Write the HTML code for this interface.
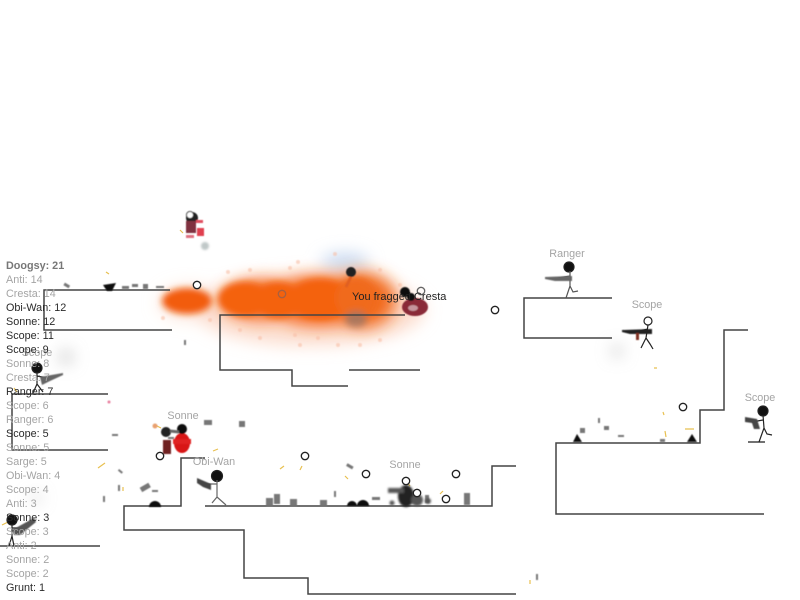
<!DOCTYPE html>
<html><head><meta charset="utf-8"><style>
html,body{margin:0;padding:0;background:#fff;width:800px;height:600px;overflow:hidden}
svg{display:block;position:absolute;left:0;top:0}
text{font-family:"Liberation Sans",sans-serif;font-size:10.8px}
.g{fill:#a4a4a4}.k{fill:#2a2a2a}.m{fill:#777}
.p{fill:none;stroke:#444;stroke-width:1.5}
.r{fill:#fff;stroke:#222;stroke-width:1.3}
.s{fill:none;stroke:#222;stroke-width:1.2}
.d{fill:#777}
</style></head><body>
<svg width="800" height="600" viewBox="0 0 800 600" xmlns="http://www.w3.org/2000/svg">
<defs>
<filter id="b1" x="-40%" y="-60%" width="180%" height="220%"><feGaussianBlur stdDeviation="3.5"/></filter>
<filter id="b2" x="-40%" y="-60%" width="180%" height="220%"><feGaussianBlur stdDeviation="8"/></filter>
<filter id="b3" x="-40%" y="-40%" width="180%" height="180%"><feGaussianBlur stdDeviation="1"/></filter>
<filter id="b4" x="-40%" y="-40%" width="180%" height="180%"><feGaussianBlur stdDeviation="0.5"/></filter>
</defs>
<!-- smoke haze -->
<g filter="url(#b2)">
<ellipse cx="345" cy="262" rx="24" ry="9" fill="#bcd0ec" opacity=".8"/>
<ellipse cx="310" cy="310" rx="115" ry="36" fill="#fbd0bc" opacity=".7"/>
<ellipse cx="190" cy="303" rx="32" ry="18" fill="#fbd8c8" opacity=".6"/>
</g>
<!-- orange fire -->
<g filter="url(#b2)">
<ellipse cx="262" cy="300" rx="40" ry="20" fill="#f5661a"/>
<ellipse cx="320" cy="301" rx="55" ry="25" fill="#f5661a"/>
<ellipse cx="362" cy="300" rx="34" ry="28" fill="#f26a1e"/>
</g>
<g filter="url(#b1)">
<ellipse cx="187" cy="301" rx="25" ry="13" fill="#f25c0a"/>
<ellipse cx="244" cy="299" rx="26" ry="17" fill="#f4620e"/>
<ellipse cx="278" cy="300" rx="24" ry="18" fill="#f4620e"/>
<ellipse cx="320" cy="299" rx="32" ry="20" fill="#f4620e"/>
<ellipse cx="356" cy="298" rx="20" ry="21" fill="#f06a1a"/>
<ellipse cx="356" cy="319" rx="11" ry="8" fill="#9a7768" opacity=".8"/>
</g>
<g fill="#f8c0a8" opacity=".6" filter="url(#b4)">
<circle cx="228" cy="272" r="2"/><circle cx="250" cy="270" r="2"/><circle cx="290" cy="268" r="2"/><circle cx="298" cy="262" r="2"/><circle cx="335" cy="254" r="2"/><circle cx="338" cy="345" r="2"/>
<circle cx="295" cy="335" r="2"/><circle cx="240" cy="330" r="2"/><circle cx="260" cy="338" r="2"/><circle cx="300" cy="345" r="2"/><circle cx="360" cy="345" r="2"/><circle cx="380" cy="340" r="2"/><circle cx="318" cy="338" r="2"/><circle cx="400" cy="285" r="2"/><circle cx="380" cy="270" r="2"/><circle cx="163" cy="318" r="2"/><circle cx="210" cy="320" r="2"/>
</g>
<g filter="url(#b2)" fill="#bbb">
<circle cx="66" cy="357" r="6"/><circle cx="617" cy="351" r="5"/><circle cx="36" cy="498" r="4"/>
</g>
<circle cx="205" cy="246" r="4" fill="#c0c8c8" filter="url(#b3)"/>
<!-- platforms -->
<g class="p">
<path d="M170 290H44V330H172"/>
<path d="M108 394H12V450H108"/>
<path d="M0 546H100"/>
<path d="M405 315H220V370H292V386H348"/>
<path d="M349 370H420"/>
<path d="M205 458H181V506H124V530H244V578H308V594H516"/>
<path d="M205 506H492V466H516"/>
<path d="M612 298H524V338H612"/>
<path d="M764 514H556V443H700V410H724V330H748"/>
<path d="M748 442H765"/>
</g>
<!-- debris -->
<g class="d" filter="url(#b4)">
<rect x="64" y="284" width="6" height="3" transform="rotate(30 67 285)"/>
<rect x="122" y="286" width="7" height="3"/><rect x="132" y="284" width="6" height="3"/><rect x="143" y="284" width="5" height="5"/><rect x="156" y="286" width="8" height="2"/>
<rect x="184" y="340" width="2" height="5"/>
<rect x="112" y="434" width="6" height="2"/><rect x="118" y="470" width="5" height="2" transform="rotate(40 120 471)"/>
<rect x="140" y="485" width="10" height="5" transform="rotate(-30 145 487)"/><rect x="152" y="490" width="6" height="2"/><rect x="168" y="437" width="6" height="2"/>
<rect x="118" y="485" width="2" height="6"/><rect x="103" y="496" width="2" height="6"/>
<rect x="204" y="420" width="8" height="5"/><rect x="239" y="421" width="6" height="6"/>
<rect x="266" y="498" width="7" height="8"/><rect x="274" y="494" width="6" height="10"/><rect x="290" y="499" width="7" height="7"/><rect x="320" y="500" width="7" height="6"/>
<rect x="346" y="465" width="7" height="3" transform="rotate(30 350 467)"/><rect x="334" y="491" width="2" height="6"/>
<rect x="372" y="497" width="8" height="3"/><rect x="425" y="495" width="4" height="8"/><rect x="464" y="493" width="6" height="12"/>
<rect x="598" y="418" width="2" height="5"/><rect x="580" y="428" width="5" height="5"/><rect x="604" y="426" width="5" height="4"/><rect x="618" y="435" width="6" height="2"/><rect x="660" y="439" width="5" height="3"/>
<rect x="536" y="574" width="2" height="6"/>
</g>
<!-- mines -->
<g fill="#111" filter="url(#b4)">
<path d="M103 285L116 283L112 291H107Z"/>
<path d="M149 507a6 6 0 0 1 12 0Z"/>
<path d="M347 506a5 5 0 0 1 10 0ZM357 506a6 6 0 0 1 12 0Z"/>
<path d="M573 442l4-8 5 8Z"/><path d="M687 442l5-8 5 8Z"/>
</g>
<!-- sparks -->
<g stroke="#e8c050" stroke-width="1.2" fill="none">
<path d="M106 272l3 2M180 230l3 3M98 468l7-5M280 469l4-3M123 487v4M213 451l5-2M302 466l-2 4M654 368h3M663 412l1 3M665 431l1 6M685 429h9M530 584v-4M155 425l6 3M14 388l3 4M2 525l8-4M407 482l3 4M440 494l3-3M345 476l3 3"/>
</g>
<!-- explosion dark cluster -->
<g fill="#222" filter="url(#b3)">
<ellipse cx="406" cy="496" rx="8" ry="11"/><rect x="388" y="488" width="16" height="5" fill="#555"/><circle cx="417" cy="500" r="6" fill="#555"/><circle cx="428" cy="501" r="3" fill="#555"/><circle cx="392" cy="503" r="2.5" fill="#555"/>
</g>
<!-- blood -->
<g filter="url(#b4)">
<circle cx="192" cy="218" r="6" fill="#222"/><circle cx="190" cy="215" r="3.5" fill="#fff" stroke="#333"/>
<rect x="186" y="221" width="10" height="12" fill="#803040"/><rect x="196" y="220" width="7" height="3" fill="#e05060"/><rect x="197" y="228" width="7" height="8" fill="#e04050"/><rect x="186" y="235" width="8" height="3" fill="#e07080"/>
<ellipse cx="182" cy="443" rx="8" ry="10" fill="#d81818"/><rect x="173" y="439" width="18" height="5" fill="#e02020"/><rect x="163" y="440" width="8" height="14" fill="#702020"/><circle cx="166" cy="432" r="5" fill="#222"/><circle cx="182" cy="429" r="5" fill="#111"/><path d="M170 431l9 1" stroke="#666" stroke-width="3"/>
<ellipse cx="415" cy="307" rx="13" ry="9" fill="#8a2a38"/><ellipse cx="413" cy="308" rx="5" ry="3" fill="#fff" opacity=".5"/><circle cx="405" cy="292" r="5" fill="#111"/><circle cx="411" cy="297" r="4" fill="#111"/>
<circle cx="351" cy="272" r="5" fill="#222"/><path d="M351 277l-5 10" stroke="#e06020" stroke-width="3"/>
<circle cx="109" cy="402" r="1.5" fill="#e880a0"/><circle cx="155" cy="426" r="2.5" fill="#e8a070"/>
</g>
<!-- stick figures -->
<g class="s">
<g><circle cx="37" cy="368" r="5" fill="#111"/><path d="M37 372V384L33 393M37 384L43 392M37 376L47 378"/></g>
<g><circle cx="12" cy="520" r="5" fill="#111"/><path d="M12 524V536L9 546M12 536L14 546M12 528L22 528"/></g>
<g><circle cx="217" cy="476" r="5.5" fill="#111"/><path d="M217 480V497L212 503M217 497L226 505M217 484L207 484" stroke="#666"/></g>
<g><circle cx="569" cy="267" r="5" fill="#111"/><path d="M570 271V286L566 298M570 286L573 292L578 291M570 276L558 278" stroke="#555"/></g>
<g><circle cx="648" cy="321" r="4" fill="#fff" stroke="#222"/><path d="M648 325L646 338L641 348M646 338L650 344L653 349M648 329L640 331"/></g>
<g><circle cx="763" cy="411" r="5" fill="#111"/><path d="M763 415L764 428L759 442M764 428L767 434L772 435M763 420L752 422"/></g>
</g>
<!-- guns -->
<g filter="url(#b4)">
<path d="M545 277L572 276V281H555L545 279Z" fill="#666"/>
<path d="M622 330L652 329V334H630L622 332Z" fill="#222"/><rect x="636" y="333" width="3" height="7" fill="#803020"/>
<path d="M745 417L757 419L760 429H754L752 423L745 422Z" fill="#444"/>
<path d="M40 377L63 373V375L50 381L42 385Z" fill="#666"/>
<path d="M197 478L211 484L211 490L203 487L197 483Z" fill="#444"/>
<path d="M12 530L34 518L36 522L20 535L14 535Z" fill="#555"/>
</g>
<!-- rings -->
<g class="r">
<circle cx="197" cy="285" r="3.7"/><circle cx="282" cy="294" r="3.7" fill="none" stroke="#a86040"/>
<circle cx="421" cy="291" r="3.7" fill="none" stroke="#666"/><circle cx="495" cy="310" r="3.7"/>
<circle cx="160" cy="456" r="3.7"/><circle cx="305" cy="456" r="3.7"/>
<circle cx="366" cy="474" r="3.7"/><circle cx="406" cy="481" r="3.7"/><circle cx="417" cy="493" r="3.7"/><circle cx="456" cy="474" r="3.7"/><circle cx="446" cy="499" r="3.7"/>
<circle cx="683" cy="407" r="3.7"/>
</g>
<!-- name labels -->
<g class="g" text-anchor="middle">
<text x="567" y="257">Ranger</text><text x="647" y="308">Scope</text><text x="760" y="401">Scope</text>
<text x="183" y="419">Sonne</text><text x="214" y="465">Obi-Wan</text><text x="405" y="468">Sonne</text><text x="37" y="356">Scope</text>
</g>
<text x="352" y="300" fill="#222" style="font-size:11px">You fragged Cresta</text>
<!-- scoreboard -->
<g>
<text x="6" y="269" class="m" font-weight="bold">Doogsy: 21</text>
<text x="6" y="283" class="g">Anti: 14</text>
<text x="6" y="297" class="g">Cresta: 14</text>
<text x="6" y="311" class="k">Obi-Wan: 12</text>
<text x="6" y="325" class="k">Sonne: 12</text>
<text x="6" y="339" class="k">Scope: 11</text>
<text x="6" y="353" class="k">Scope: 9</text>
<text x="6" y="367" class="g">Sonne: 8</text>
<text x="6" y="381" class="g">Cresta: 7</text>
<text x="6" y="395" class="k">Ranger: 7</text>
<text x="6" y="409" class="g">Scope: 6</text>
<text x="6" y="423" class="g">Ranger: 6</text>
<text x="6" y="437" class="k">Scope: 5</text>
<text x="6" y="451" class="g">Sonne: 5</text>
<text x="6" y="465" class="g">Sarge: 5</text>
<text x="6" y="479" class="g">Obi-Wan: 4</text>
<text x="6" y="493" class="g">Scope: 4</text>
<text x="6" y="507" class="g">Anti: 3</text>
<text x="6" y="521" class="k">Sonne: 3</text>
<text x="6" y="535" class="g">Scope: 3</text>
<text x="6" y="549" class="g">Anti: 2</text>
<text x="6" y="563" class="g">Sonne: 2</text>
<text x="6" y="577" class="g">Scope: 2</text>
<text x="6" y="591" class="k">Grunt: 1</text>
</g>
</svg>
</body></html>
